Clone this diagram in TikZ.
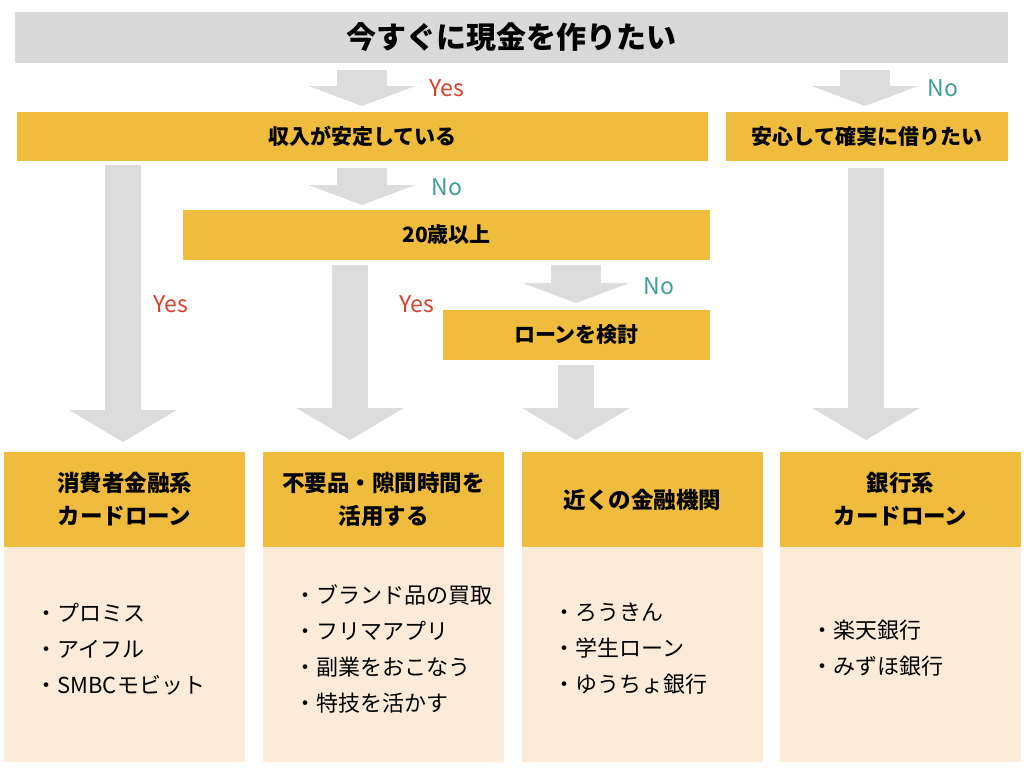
\documentclass[tikz,border=0pt]{standalone}
\usepackage{fontspec}
\setmainfont{Noto Sans CJK JP}
\usetikzlibrary{arrows.meta}
\definecolor{gbar}{HTML}{D9D9D9}
\definecolor{obar}{HTML}{F0BC3E}
\definecolor{beige}{HTML}{FDEBDA}
\definecolor{arr}{HTML}{DCDCDC}
\definecolor{yes}{HTML}{D9402B}
\definecolor{no}{HTML}{3E9E96}
\begin{document}
\begin{tikzpicture}[x=1pt,y=-1pt,
 bar/.style={fill=obar,draw=none,inner sep=0,font=\bfseries\fontsize{21}{24}\selectfont},
 head/.style={font=\bfseries\fontsize{22.5}{33}\selectfont,align=center},
 body/.style={fill=beige,draw=none},
 fat/.style={draw=arr,line width=36pt,-{Triangle[length=32pt,width=106pt]}},
 short/.style={draw=arr,line width=50pt,-{Triangle[length=20pt,width=106pt]}},
 yes/.style={text=yes,font=\fontsize{23}{26}\selectfont},
 no/.style={text=no,font=\fontsize{23}{26}\selectfont},
 item/.style={anchor=west,align=left,font=\fontsize{22}{36}\selectfont}]
\useasboundingbox (0,0) rectangle (1024,768);
\fill[white] (0,0) rectangle (1024,768);
\node[fill=gbar,minimum width=993pt,minimum height=51pt,inner sep=0,font=\bfseries\fontsize{30}{34}\selectfont] (top) at (511.5,37.5) {今すぐに現金を作りたい};
\node[bar,minimum width=691pt,minimum height=49pt] (inc) at (362.5,136.5) {収入が安定している};
\node[bar,minimum width=282pt,minimum height=49pt] (safe) at (867,136.5) {安心して確実に借りたい};
\node[bar,minimum width=527pt,minimum height=50pt] (age) at (446.5,235) {20歳以上};
\node[bar,minimum width=267pt,minimum height=50pt] (loan) at (576.5,335) {ローンを検討};
% bottom
\foreach \n/\x in {c1/124.5,c2/383.5,c3/642.5,c4/900.5}{
 \node[body,minimum width=241pt,minimum height=215pt] (\n b) at (\x,654.5) {};
 \node[bar,minimum width=241pt,minimum height=95pt] (\n) at (\x,499.5) {};
}
\node[head] at (c1) {消費者金融系\\カードローン};
\node[head] at (c2) {不要品・隙間時間を\\活用する};
\node[head] at (c3) {近くの金融機関};
\node[head] at (c4) {銀行系\\カードローン};
\node[item] at (32,649) {・プロミス\\・アイフル\\・SMBCモビット};
\node[item] at (291,649) {・ブランド品の買取\\・フリマアプリ\\・副業をおこなう\\・特技を活かす};
\node[item] at (550,649) {・ろうきん\\・学生ローン\\・ゆうちょ銀行};
\node[item] at (808,648) {・楽天銀行\\・みずほ銀行};
% arrows
\coordinate (a1s) at (362,70); \coordinate (a1e) at (362,106);
\coordinate (a2s) at (865,70); \coordinate (a2e) at (865,106);
\coordinate (a3s) at (362,168); \coordinate (a3e) at (362,205);
\coordinate (a7s) at (576,265); \coordinate (a7e) at (576,303);
\draw[short] (a1s) -- (a1e);
\draw[short] (a2s) -- (a2e);
\draw[short] (a3s) -- (a3e);
\draw[short] (a7s) -- (a7e);
\coordinate (b1s) at (123,165); \coordinate (b1e) at (123,442);
\coordinate (b2s) at (350,265); \coordinate (b2e) at (350,440);
\coordinate (b3s) at (576,365); \coordinate (b3e) at (576,440);
\coordinate (b4s) at (866,168); \coordinate (b4e) at (866,440);
\draw[fat] (b1s) -- (b1e);
\draw[fat] (b2s) -- (b2e);
\draw[fat] (b3s) -- (b3e);
\draw[fat] (b4s) -- (b4e);
\node[yes] at (447,88) {Yes};
\node[no] at (943,88) {No};
\node[no] at (447,187) {No};
\node[yes] at (171,304) {Yes};
\node[yes] at (417,304) {Yes};
\node[no] at (659,286) {No};
\end{tikzpicture}
\end{document}
